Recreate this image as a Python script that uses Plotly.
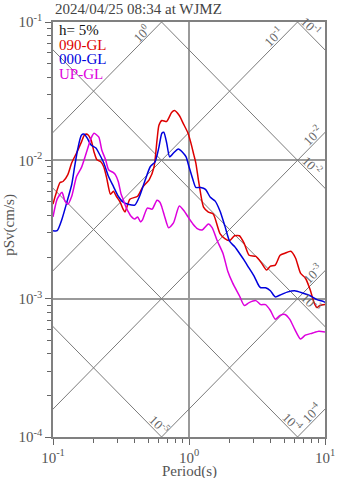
import numpy as np
import plotly.graph_objects as go

# ---------------- data ----------------
red_T = [0.1, 0.1038, 0.1127, 0.1184, 0.1286, 0.1373, 0.149, 0.1617, 0.1699, 0.1785, 0.1906, 0.2002, 0.2103,
         0.2246, 0.236, 0.2479, 0.2647, 0.278, 0.2921, 0.3118, 0.3276, 0.3385, 0.3675, 0.419, 0.4549, 0.5103,
         0.5538, 0.5818, 0.6012, 0.6316, 0.6857, 0.7444, 0.7819, 0.8487, 0.9063, 0.9838, 1.0335, 1.0854, 1.122,
         1.178, 1.279, 1.388, 1.508, 1.69, 1.835, 1.992, 2.163, 2.348, 2.549, 2.767, 3.104, 3.425, 3.718, 3.969,
         4.31, 4.677, 5.077, 5.603, 6.081, 6.603, 7.167, 7.78, 8.309, 8.727, 9.167, 10]
red_Sv = [0.00482, 0.0055, 0.00691, 0.00703, 0.00789, 0.0096, 0.0113, 0.01354, 0.01519, 0.01544, 0.0140, 0.0115,
          0.01008, 0.00976, 0.00899, 0.0075, 0.00568, 0.00597, 0.0055, 0.00498, 0.00444, 0.00423, 0.00524, 0.0055,
          0.00637, 0.00726, 0.00899, 0.0140, 0.0179, 0.01942, 0.0191, 0.02214, 0.02288, 0.02108, 0.0185, 0.0157,
          0.01332, 0.01094, 0.0096, 0.00703, 0.00459, 0.00423, 0.00409, 0.00295, 0.00272, 0.00263, 0.00285,
          0.00285, 0.0025, 0.00206, 0.00202, 0.0018, 0.00161, 0.00172, 0.00175, 0.00206, 0.00213, 0.0022, 0.00196,
          0.00153, 0.00141, 0.00116, 0.000937, 0.000863, 0.000892, 0.000906]

blue_T = [0.1, 0.1073, 0.1165, 0.1265, 0.1373, 0.1442, 0.1515, 0.1617, 0.1699, 0.1785, 0.1906, 0.2069, 0.2173,
          0.236, 0.2561, 0.278, 0.3018, 0.3276, 0.3556, 0.399, 0.4331, 0.4778, 0.5187, 0.5629, 0.6012, 0.6316,
          0.6527, 0.6857, 0.7204, 0.7691, 0.8349, 0.9063, 0.9519, 1.0, 1.068, 1.122, 1.218, 1.322, 1.435, 1.558,
          1.69, 1.835, 1.992, 2.163, 2.348, 2.549, 2.767, 3.003, 3.261, 3.369, 3.657, 3.969, 4.31, 4.754, 5.333,
          5.983, 6.823, 7.78, 8.727, 9.788, 10]
blue_Sv = [0.0031, 0.0031, 0.00377, 0.00498, 0.00669, 0.00899, 0.01188, 0.01519, 0.01544, 0.01446, 0.01289,
           0.01227, 0.0113, 0.0096, 0.00763, 0.00648, 0.0055, 0.00498, 0.00482, 0.00474, 0.0055, 0.00726, 0.00899,
           0.00976, 0.01247, 0.0157, 0.01596, 0.01332, 0.01059, 0.0113, 0.01207, 0.0113, 0.01059, 0.00899, 0.00726,
           0.00637, 0.00637, 0.00617, 0.0054, 0.00507, 0.0043, 0.00336, 0.00259, 0.00238, 0.00213, 0.00189,
           0.00166, 0.00146, 0.00124, 0.0012, 0.0012, 0.00114, 0.00103, 0.00107, 0.00112, 0.00114, 0.0011,
           0.00105, 0.000984, 0.000952, 0.00094]

mag_T = [0.1, 0.1073, 0.1165, 0.1224, 0.1286, 0.1373, 0.149, 0.1617, 0.1756, 0.1906, 0.2002, 0.2173, 0.2283,
         0.2438, 0.2561, 0.278, 0.2873, 0.3018, 0.317, 0.3276, 0.3441, 0.3556, 0.3736, 0.399, 0.419, 0.4402,
         0.4549, 0.4938, 0.5359, 0.5818, 0.6112, 0.6316, 0.6635, 0.7086, 0.7691, 0.8487, 0.9213, 0.9838, 1.068,
         1.159, 1.259, 1.322, 1.388, 1.483, 1.61, 1.776, 1.928, 2.093, 2.348, 2.549, 2.767, 3.104, 3.369, 3.657,
         3.969, 4.31, 4.677, 5.077, 5.512, 5.983, 6.603, 7.167, 8.04, 9.018, 10]
mag_Sv = [0.0039, 0.00524, 0.00587, 0.00507, 0.00482, 0.0055, 0.00763, 0.00885, 0.0113, 0.01446, 0.0157, 0.0147,
          0.01188, 0.01008, 0.00856, 0.00815, 0.00789, 0.00703, 0.00568, 0.00524, 0.00459, 0.0043, 0.00396,
          0.00377, 0.0039, 0.00359, 0.00371, 0.00452, 0.00444, 0.00515, 0.00498, 0.00459, 0.0039, 0.00325,
          0.00353, 0.00467, 0.0043, 0.0039, 0.00347, 0.0032, 0.00315, 0.00331, 0.00347, 0.00325, 0.00263, 0.00213,
          0.00158, 0.0013, 0.00105, 0.000892, 0.000937, 0.000968, 0.000906, 0.000906, 0.000821, 0.000709,
          0.000757, 0.000769, 0.000709, 0.000602, 0.000511, 0.000545, 0.000563, 0.000582, 0.000573]

series_names = ["090-GL", "000-GL", "UP-GL"]
series_colors = ["#dd0000", "#0000dd", "#dd00dd"]

# tripartite grid levels
acc_levels = [1, 0.1, 0.01, 0.001, 0.0001]          # constant pseudo-acceleration lines
acc_label_T = [0.485, 4.56, 8.8, 8.85, 8.73]
acc_label_txt = ["10<sup>0</sup>", "10<sup>-1</sup>", "10<sup>-2</sup>", "10<sup>-3</sup>", "10<sup>-4</sup>"]
disp_levels = [0.1, 0.01, 0.001, 0.0001, 0.00001]   # constant displacement lines
disp_label_T = [7.29, 7.4, 7.25, 5.33, 0.553]
disp_label_txt = ["10<sup>-1</sup>", "10<sup>-2</sup>", "10<sup>-3</sup>", "10<sup>-4</sup>", "10<sup>-5</sup>"]

x_tickvals = [0.1, 1, 10]
x_ticktext = ["10<sup>-1</sup>", "10<sup>0</sup>", "10<sup>1</sup>"]
y_tickvals = [1e-4, 1e-3, 1e-2, 1e-1]
y_ticktext = ["10<sup>-4</sup>", "10<sup>-3</sup>", "10<sup>-2</sup>", "10<sup>-1</sup>"]

title_text = "2024/04/25 08:34 at WJMZ"
damping_text = "h= 5%"

FONT = "Liberation Serif, Times New Roman, serif"
TXT = "#555555"
TWO_PI = 2 * np.pi

fig = go.Figure()

T_line = np.array([0.01, 100.0])
for sa in acc_levels:
    fig.add_trace(go.Scatter(x=T_line, y=sa * T_line / TWO_PI, mode="lines",
                             line=dict(color="#7a7a7a", width=1), hoverinfo="skip", showlegend=False))
for sd in disp_levels:
    fig.add_trace(go.Scatter(x=T_line, y=TWO_PI * sd / T_line, mode="lines",
                             line=dict(color="#7a7a7a", width=1), hoverinfo="skip", showlegend=False))

for T, S, name, col in zip([red_T, blue_T, mag_T], [red_Sv, blue_Sv, mag_Sv], series_names, series_colors):
    fig.add_trace(go.Scatter(x=T, y=S, mode="lines", name=name,
                             line=dict(color=col, width=1.5, shape="spline", smoothing=0.6),
                             showlegend=False))

off = 5
for sa, t, txt in zip(acc_levels, acc_label_T, acc_label_txt):
    fig.add_annotation(x=np.log10(t), y=np.log10(sa * t / TWO_PI), xref="x", yref="y", text=txt,
                       showarrow=False, textangle=-45, xshift=-off, yshift=off,
                       font=dict(family=FONT, size=13, color="#666666"))
for sd, t, txt in zip(disp_levels, disp_label_T, disp_label_txt):
    fig.add_annotation(x=np.log10(t), y=np.log10(TWO_PI * sd / t), xref="x", yref="y", text=txt,
                       showarrow=False, textangle=45, xshift=off, yshift=off,
                       font=dict(family=FONT, size=13, color="#666666"))

# legend-like text
legend_lines = [(damping_text, "#111111")] + list(zip(series_names, series_colors))
for i, (txt, col) in enumerate(legend_lines):
    fig.add_annotation(x=0.016, y=0.981 - 0.0355 * i, xref="paper", yref="paper", text=txt,
                       showarrow=False, xanchor="left", yanchor="middle",
                       font=dict(family=FONT, size=15, color=col))

fig.add_annotation(x=0, y=1.031, xref="paper", yref="paper", text=title_text, showarrow=False,
                   xanchor="left", yanchor="middle", font=dict(family=FONT, size=15, color="#444444"))
fig.add_annotation(x=0.5, y=-0.082, xref="paper", yref="paper", text="Period(s)", showarrow=False,
                   xanchor="center", yanchor="middle", font=dict(family=FONT, size=15, color=TXT))
fig.add_annotation(x=-0.161, y=0.512, xref="paper", yref="paper", text="pSv(cm/s)", showarrow=False,
                   textangle=-90, xanchor="center", yanchor="middle", font=dict(family=FONT, size=15, color=TXT))

axis_common = dict(type="log", showline=True, linecolor="#808080", linewidth=1.5, mirror=True,
                   showgrid=True, gridcolor="#9a9a9a", gridwidth=1.5, zeroline=False,
                   ticks="outside", ticklen=6, tickcolor="#666666", tickwidth=1,
                   tickfont=dict(family=FONT, size=15, color=TXT),
                   minor=dict(ticks="outside", ticklen=4, tickcolor="#666666", dtick="D1", showgrid=False))

fig.update_xaxes(range=[-1, 1], tickvals=x_tickvals, ticktext=x_ticktext, **axis_common)
fig.update_yaxes(range=[-4, -1], tickvals=y_tickvals, ticktext=y_ticktext, **axis_common)

fig.update_layout(width=347, height=478, margin=dict(l=53, r=14, t=15, b=41),
                  paper_bgcolor="white", plot_bgcolor="white", showlegend=False)

fig.write_html("out.html")
